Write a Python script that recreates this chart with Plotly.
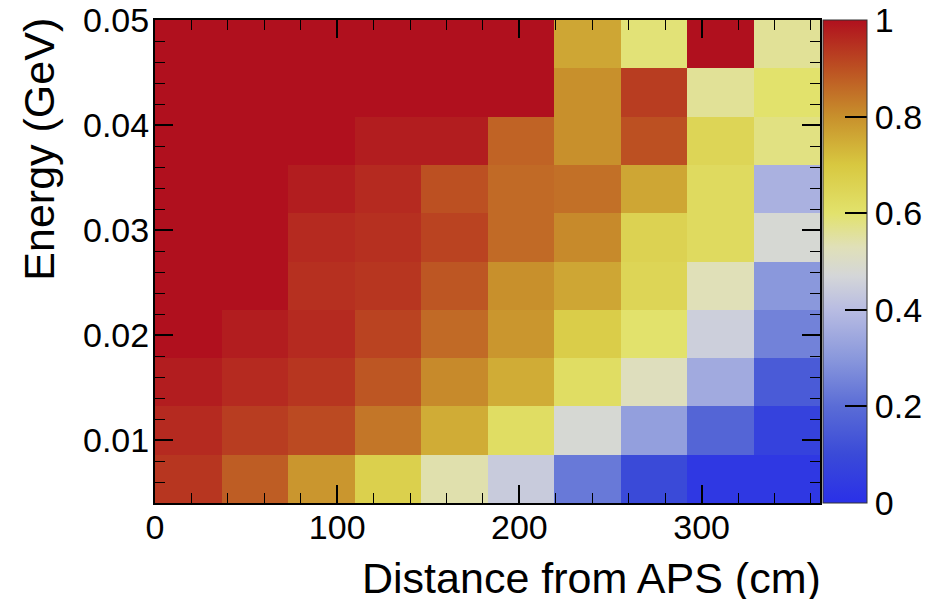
import plotly.graph_objects as go

# Bin edges
x_edges = [0, 36.5, 73, 109.5, 146, 182.5, 219, 255.5, 292, 328.5, 365]
y_edges = [0.004, 0.0086, 0.0132, 0.0178, 0.0224, 0.027, 0.0316, 0.0362, 0.0408, 0.0454, 0.05]

# Values per energy row (bottom to top), columns = distance bins
row01 = [0.94, 0.88, 0.79, 0.67, 0.54, 0.44, 0.23, 0.10, 0.03, 0.03]
row02 = [0.96, 0.93, 0.91, 0.84, 0.75, 0.62, 0.48, 0.32, 0.18, 0.07]
row03 = [0.98, 0.96, 0.94, 0.89, 0.81, 0.75, 0.62, 0.52, 0.35, 0.15]
row04 = [1.00, 0.98, 0.96, 0.92, 0.86, 0.79, 0.68, 0.60, 0.45, 0.25]
row05 = [1.00, 1.00, 0.95, 0.94, 0.89, 0.80, 0.76, 0.65, 0.53, 0.30]
row06 = [1.00, 1.00, 0.96, 0.95, 0.92, 0.86, 0.81, 0.66, 0.63, 0.48]
row07 = [1.00, 1.00, 0.98, 0.96, 0.90, 0.86, 0.85, 0.76, 0.63, 0.37]
row08 = [1.00, 1.00, 1.00, 0.98, 0.98, 0.87, 0.80, 0.90, 0.65, 0.58]
row09 = [1.00, 1.00, 1.00, 1.00, 1.00, 1.00, 0.80, 0.93, 0.56, 0.60]
row10 = [1.00, 1.00, 1.00, 1.00, 1.00, 1.00, 0.76, 0.59, 1.00, 0.56]
z = [row01, row02, row03, row04, row05, row06, row07, row08, row09, row10]

cb_ticks = [0, 0.2, 0.4, 0.6, 0.8, 1]
cb_labels = ["0", "0.2", "0.4", "0.6", "0.8", "1"]

colorscale = [
    [0.0, "#2a30e8"], [0.1, "#3a4ad8"], [0.2, "#5a6cd6"], [0.3, "#8a98dc"],
    [0.4, "#b8bce2"], [0.47, "#d4d6d8"], [0.53, "#e0e0b8"], [0.6, "#e2e26c"],
    [0.7, "#d8c840"], [0.8, "#c8902c"], [0.9, "#bc5022"], [1.0, "#b0101e"],
]

FONT = "Liberation Sans"

fig = go.Figure(go.Heatmap(
    x=x_edges, y=y_edges, z=z, zmin=0, zmax=1,
    colorscale=colorscale,
    colorbar=dict(
        thickness=44, thicknessmode="pixels", len=1, lenmode="fraction",
        x=1.0045, xanchor="left", xpad=0, y=0.5, yanchor="middle", ypad=0,
        outlinewidth=1, outlinecolor="#333",
        tickvals=cb_ticks, ticktext=cb_labels, ticks="inside", ticklen=22,
        tickcolor="black", tickwidth=1.5, ticklabeloverflow="allow",
        tickfont=dict(family=FONT, size=34, color="black"),
    ),
))

# page body has an 8px margin: size the figure so the plot lands where the reference has it
fig.update_layout(
    width=926, height=591,
    margin=dict(l=147, r=114, t=12, b=96, autoexpand=False),
    paper_bgcolor="white", plot_bgcolor="white",
    font=dict(family=FONT, color="black"),
    annotations=[
        dict(text="Distance from APS (cm)", xref="paper", yref="paper",
             x=1.005, y=-0.155, xanchor="right", yanchor="middle", showarrow=False,
             font=dict(family=FONT, size=43, color="black")),
        dict(text="Energy (GeV)", xref="paper", yref="paper", textangle=-90,
             x=-0.1744, y=1.008, xanchor="center", yanchor="top", showarrow=False,
             font=dict(family=FONT, size=43, color="black")),
    ],
)

fig.update_xaxes(
    range=[0, 365], tick0=0, dtick=100, ticks="inside", ticklen=18, tickwidth=1.5,
    tickcolor="black", showline=True, linecolor="black", linewidth=2, mirror="ticks",
    showgrid=False, zeroline=False, automargin=False, ticklabeloverflow="allow",
    ticklabelstandoff=-7,
    tickfont=dict(family=FONT, size=34, color="black"),
    minor=dict(dtick=20, ticks="inside", ticklen=10, tickwidth=1.2, tickcolor="black", showgrid=False),
)
fig.update_yaxes(
    range=[0.004, 0.05], tick0=0, dtick=0.01, tickformat=".2f", ticks="inside", ticklen=18,
    tickwidth=1.5, tickcolor="black", showline=True, linecolor="black", linewidth=2,
    mirror="ticks", showgrid=False, zeroline=False, automargin=False, ticklabeloverflow="allow",
    ticklabelstandoff=-3,
    tickfont=dict(family=FONT, size=34, color="black"),
    minor=dict(dtick=0.002, ticks="inside", ticklen=10, tickwidth=1.2, tickcolor="black", showgrid=False),
)

fig.write_html("out.html")
